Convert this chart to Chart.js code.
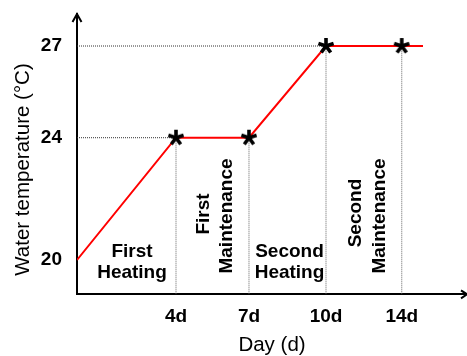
<!DOCTYPE html>
<html>
<head>
<meta charset="utf-8">
<script src="https://cdn.jsdelivr.net/npm/chart.js@4/dist/chart.umd.min.js"></script>
<style>
    html, body { margin: 0; padding: 0; background: #fff; }
    #wrap { width: 467px; height: 356px; position: relative; }
</style>
</head>
<body>
<div id="wrap"><canvas id="tempChart"></canvas></div>
<script>
// Schematic positions along the day axis (not to scale in the original)
const linePos = [0, 1.32, 2.293, 3.32, 4.33, 4.613];
const lineTemp = [20, 24, 24, 27, 27, 27];

// Marked sampling days (stars)
const dayLabels = ['4d', '7d', '10d', '14d'];
const dayPos = [1.32, 2.293, 3.32, 4.33];
const dayTemp = [24, 24, 27, 27];

// Y axis tick labels
const yTicks = [20, 24, 27];

const Y_MIN = 18.877;
const Y_MAX = 28.047;
const X_MAX = 5.2;

const FONT = '"Liberation Sans", Arial, sans-serif';

// Asterisk marker (5 arms)
function makeStar() {
    const c = document.createElement('canvas');
    c.width = 18; c.height = 18;
    const g = c.getContext('2d');
    g.strokeStyle = '#000';
    g.lineWidth = 3.6;
    g.lineCap = 'butt';
    for (let k = 0; k < 5; k++) {
        const a = (-90 + k * 72) * Math.PI / 180;
        g.beginPath();
        g.moveTo(9, 9);
        g.lineTo(9 + Math.cos(a) * 8, 9 + Math.sin(a) * 8);
        g.stroke();
    }
    return c;
}

// Dotted guides from the y axis to a star and from a star down to the x axis
const guideSets = [];
dayPos.forEach((x, i) => {
    guideSets.push({
        data: [{ x: x, y: Y_MIN }, { x: x, y: dayTemp[i] }],
        borderColor: '#666', borderWidth: 1, borderDash: [1, 1],
        pointRadius: 0, order: 3
    });
});
[0, 2].forEach(i => {
    guideSets.push({
        data: [{ x: 0, y: dayTemp[i] }, { x: dayPos[i], y: dayTemp[i] }],
        borderColor: '#333', borderWidth: 1, borderDash: [1, 1],
        pointRadius: 0, order: 3
    });
});

// no extra padding for tick labels, the chart area must fill the box
function noPad(s) {
    s.paddingLeft = 0; s.paddingRight = 0; s.paddingTop = 0; s.paddingBottom = 0;
}

// Arrows, y title and stage labels
const annotate = {
    id: 'annotate',
    afterDraw(chart) {
        const ctx = chart.ctx;
        const a = chart.chartArea;
        ctx.save();
        ctx.strokeStyle = '#000';
        ctx.lineWidth = 2;
        ctx.beginPath();
        ctx.moveTo(a.left - 4.5, a.top + 8); ctx.lineTo(a.left, a.top); ctx.lineTo(a.left + 4.5, a.top + 8);
        ctx.moveTo(a.right - 6, a.bottom - 4); ctx.lineTo(a.right, a.bottom); ctx.lineTo(a.right - 6, a.bottom + 4);
        ctx.stroke();

        ctx.fillStyle = '#000';
        ctx.textAlign = 'center';
        ctx.textBaseline = 'alphabetic';

        const vert = (txt, x, y) => {
            ctx.save();
            ctx.translate(x, y);
            ctx.rotate(-Math.PI / 2);
            ctx.fillText(txt, 0, 0);
            ctx.restore();
        };

        ctx.font = '20.5px ' + FONT;
        vert('Water temperature (°C)', 28.5, 169.5);

        ctx.font = 'bold 19px ' + FONT;
        ctx.fillText('First', 132, 257);
        ctx.fillText('Heating', 132, 278);
        ctx.fillText('Second', 289.5, 257);
        ctx.fillText('Heating', 289.5, 278);

        vert('First', 208.5, 214);
        vert('Maintenance', 231.7, 216);
        vert('Second', 360.5, 213);
        vert('Maintenance', 384.5, 216);
        ctx.restore();
    }
};

const ctx = document.getElementById('tempChart').getContext('2d');
new Chart(ctx, {
    type: 'line',
    data: {
        datasets: [
            {
                data: dayPos.map((x, i) => ({ x: x, y: dayTemp[i] })),
                showLine: false,
                pointStyle: makeStar(),
                pointRadius: 9,
                order: 1
            },
            {
                data: linePos.map((x, i) => ({ x: x, y: lineTemp[i] })),
                borderColor: '#ff0000',
                borderWidth: 2,
                pointRadius: 0,
                tension: 0,
                order: 2
            },
            ...guideSets
        ]
    },
    options: {
        responsive: true,
        maintainAspectRatio: false,
        animation: false,
        layout: { autoPadding: false, padding: { top: 14, right: 0, left: 0, bottom: 0 } },
        plugins: { legend: { display: false }, tooltip: { enabled: false } },
        scales: {
            x: {
                type: 'linear',
                min: 0,
                max: X_MAX,
                afterBuildTicks: s => { s.ticks = dayPos.map(v => ({ value: v })); },
                afterFit: s => { s.height = 61.7; noPad(s); },
                grid: { display: false, drawTicks: false },
                border: { display: true, color: '#000', width: 2 },
                ticks: {
                    padding: 11,
                    color: '#000',
                    font: { family: FONT, size: 19, weight: 'bold' },
                    callback: (v, i) => dayLabels[i]
                },
                title: {
                    display: true,
                    text: 'Day (d)',
                    color: '#000',
                    font: { family: FONT, size: 20.5, lineHeight: 1 },
                    padding: { top: 0, bottom: 0 }
                }
            },
            y: {
                min: Y_MIN,
                max: Y_MAX,
                afterBuildTicks: s => { s.ticks = yTicks.map(v => ({ value: v })); },
                afterFit: s => { s.width = 77; noPad(s); },
                grid: { display: false, drawTicks: false },
                border: { display: true, color: '#000', width: 2 },
                ticks: {
                    padding: 15,
                    color: '#000',
                    font: { family: FONT, size: 19, weight: 'bold' }
                }
            }
        }
    },
    plugins: [annotate]
});
</script>
</body>
</html>
